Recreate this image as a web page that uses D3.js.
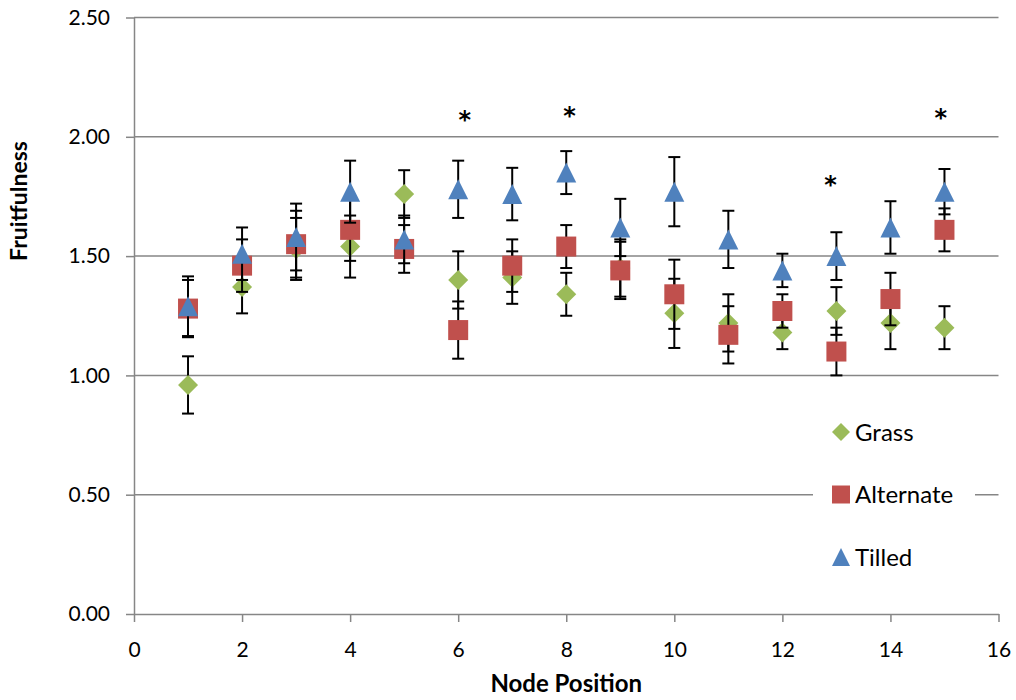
<!DOCTYPE html>
<html>
<head>
<meta charset="utf-8">
<script src="https://cdn.jsdelivr.net/npm/d3@7"></script>
<style>
    body { margin: 0; background: #fff; }
    svg text { font-family: Lato, "Open Sans", sans-serif; fill: #000; }
</style>
</head>
<body>
<div id="chart"></div>
<script>
'use strict';

/* global d3 */

var nodes = [1, 2, 3, 4, 5, 6, 7, 8, 9, 10, 11, 12, 13, 14, 15];

var grass = [0.96, 1.37, 1.53, 1.54, 1.76, 1.40, 1.41, 1.34, 1.45, 1.26, 1.22, 1.18, 1.27, 1.22, 1.20];
var grassErr = [0.12, 0.11, 0.13, 0.13, 0.10, 0.12, 0.11, 0.09, 0.12, 0.145, 0.12, 0.07, 0.10, 0.11, 0.09];

var alternate = [1.28, 1.46, 1.55, 1.61, 1.53, 1.19, 1.46, 1.54, 1.44, 1.34, 1.17, 1.27, 1.10, 1.32, 1.61];
var alternateErr = [0.12, 0.11, 0.14, 0.13, 0.10, 0.12, 0.11, 0.09, 0.12, 0.145, 0.12, 0.07, 0.10, 0.11, 0.09];

var tilled = [1.29, 1.51, 1.58, 1.77, 1.57, 1.78, 1.76, 1.85, 1.62, 1.77, 1.57, 1.44, 1.50, 1.62, 1.77];
var tilledErr = [0.125, 0.11, 0.14, 0.13, 0.10, 0.12, 0.11, 0.09, 0.12, 0.145, 0.12, 0.07, 0.10, 0.11, 0.095];

// significance stars
var starX = [6.12, 8.06, 12.89, 14.93];
var starY = [2.09, 2.11, 1.82, 2.10];

var xTicks = [0, 2, 4, 6, 8, 10, 12, 14, 16];
var yTicks = [0, 0.5, 1, 1.5, 2, 2.5];

var WIDTH = 1016;
var HEIGHT = 700;
var GRID = "#868686";

var series = [
    { name: "Grass", values: grass, err: grassErr, color: "#9BBB59", shape: "diamond" },
    { name: "Alternate", values: alternate, err: alternateErr, color: "#C0504D", shape: "square" },
    { name: "Tilled", values: tilled, err: tilledErr, color: "#4F81BD", shape: "triangle" }
];

var x = d3.scaleLinear().domain([0, 16]).range([134, 998.5]);
var y = d3.scaleLinear().domain([0, 2.5]).range([614, 17.5]);

var svg = d3.select("#chart").append("svg")
    .attr("width", WIDTH)
    .attr("height", HEIGHT);

function markerPath(shape, s) {
    var h = s / 2;
    if (shape === "diamond") {
        return "M0," + (-h) + "L" + h + ",0L0," + h + "L" + (-h) + ",0Z";
    }
    if (shape === "square") {
        return "M" + (-h) + "," + (-h) + "h" + s + "v" + s + "h" + (-s) + "Z";
    }
    return "M0," + (-h) + "L" + h + "," + h + "L" + (-h) + "," + h + "Z";
}

// gridlines
svg.append("g")
    .selectAll("line")
    .data(yTicks.slice(1))
    .enter().append("line")
    .attr("x1", x(0))
    .attr("x2", x(16))
    .attr("y1", function (d) { return y(d); })
    .attr("y2", function (d) { return y(d); })
    .attr("stroke", GRID)
    .attr("stroke-width", 1.5);

// y axis
var yAxis = svg.append("g")
    .attr("transform", "translate(" + x(0) + ",0)")
    .call(d3.axisLeft(y).tickValues(yTicks).tickFormat(d3.format(".2f")).tickSizeInner(8).tickSizeOuter(0).tickPadding(16));
yAxis.select(".domain").attr("stroke", GRID).attr("stroke-width", 1.5);
yAxis.selectAll(".tick line").attr("stroke", GRID).attr("stroke-width", 1.5);
yAxis.selectAll(".tick text").style("font-size", "21px").attr("fill", "#000");

// x axis
var xAxis = svg.append("g")
    .attr("transform", "translate(0," + y(0) + ")")
    .call(d3.axisBottom(x).tickValues(xTicks).tickSizeInner(8).tickSizeOuter(0).tickPadding(20));
xAxis.select(".domain").attr("stroke", GRID).attr("stroke-width", 1.5);
xAxis.selectAll(".tick line").attr("stroke", GRID).attr("stroke-width", 1.5);
xAxis.selectAll(".tick text").style("font-size", "21px").attr("fill", "#000");

// axis titles
svg.append("text")
    .attr("x", (x(0) + x(16)) / 2)
    .attr("y", 692)
    .attr("text-anchor", "middle")
    .style("font-size", "24px")
    .style("font-weight", "bold")
    .text("Node Position");

svg.append("text")
    .attr("transform", "translate(27,201) rotate(-90)")
    .attr("text-anchor", "middle")
    .style("font-size", "23px")
    .style("font-weight", "bold")
    .text("Fruitfulness");

// series: error bars then markers
series.forEach(function (s) {
    var g = svg.append("g");
    var pts = nodes.map(function (n, i) {
        return { x: n, v: s.values[i], e: s.err[i] };
    });

    var bars = g.selectAll(".bar")
        .data(pts)
        .enter().append("g")
        .attr("stroke", "#000")
        .attr("stroke-width", 2);
    bars.append("line")
        .attr("x1", function (d) { return x(d.x); })
        .attr("x2", function (d) { return x(d.x); })
        .attr("y1", function (d) { return y(d.v + d.e); })
        .attr("y2", function (d) { return y(d.v - d.e); });
    bars.append("line")
        .attr("x1", function (d) { return x(d.x) - 6; })
        .attr("x2", function (d) { return x(d.x) + 6; })
        .attr("y1", function (d) { return y(d.v + d.e); })
        .attr("y2", function (d) { return y(d.v + d.e); });
    bars.append("line")
        .attr("x1", function (d) { return x(d.x) - 6; })
        .attr("x2", function (d) { return x(d.x) + 6; })
        .attr("y1", function (d) { return y(d.v - d.e); })
        .attr("y2", function (d) { return y(d.v - d.e); });

    g.selectAll(".pt")
        .data(pts)
        .enter().append("path")
        .attr("d", markerPath(s.shape, 20))
        .attr("transform", function (d) { return "translate(" + x(d.x) + "," + y(d.v) + ")"; })
        .attr("fill", s.color);
});

// stars
svg.append("g")
    .selectAll("text")
    .data(starX)
    .enter().append("text")
    .attr("x", function (d) { return x(d); })
    .attr("y", function (d, i) { return y(starY[i]) + 13; })
    .attr("text-anchor", "middle")
    .style("font-family", "'DejaVu Sans', sans-serif")
    .style("font-size", "24px")
    .style("font-weight", "bold")
    .text("*");

// legend
var legend = svg.append("g");
legend.append("rect")
    .attr("x", 813)
    .attr("y", 410)
    .attr("width", 162)
    .attr("height", 170)
    .attr("fill", "#fff");

var item = legend.selectAll(".item")
    .data(series)
    .enter().append("g")
    .attr("transform", function (d, i) { return "translate(841," + (432 + i * 62.5) + ")"; });
item.append("path")
    .attr("d", function (d) { return markerPath(d.shape, 18); })
    .attr("fill", function (d) { return d.color; });
item.append("text")
    .attr("x", 14)
    .attr("dy", "0.36em")
    .style("font-size", "24px")
    .text(function (d) { return d.name; });
</script>
</body>
</html>
